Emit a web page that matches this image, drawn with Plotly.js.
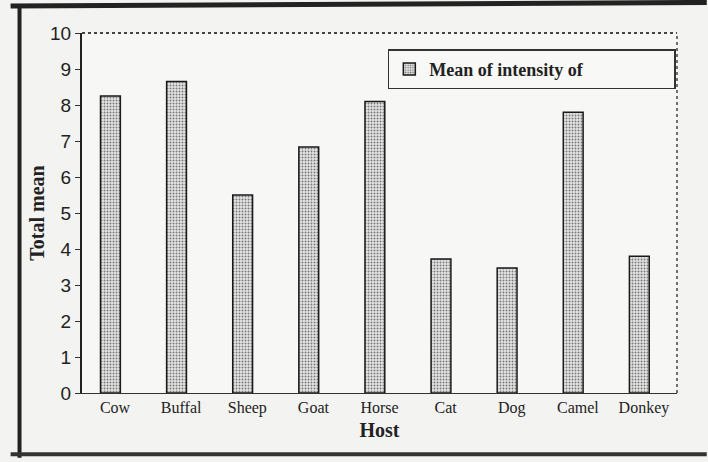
<!DOCTYPE html>
<html><head><meta charset="utf-8">
<script src="https://cdn.plot.ly/plotly-3.0.1.min.js"></script>
<style>html,body{margin:0;padding:0;background:#f3f3f1;}#chart{width:708px;height:462px;}</style>
</head><body><div id="chart"></div>
<script>
const hosts = ["Cow","Buffal","Sheep","Goat","Horse","Cat","Dog","Camel","Donkey"];
const meanIntensity = [8.25, 8.65, 5.5, 6.83, 8.1, 3.72, 3.47, 7.8, 3.8];
const yTicks = [0,1,2,3,4,5,6,7,8,9,10];

const trace = {
  type: "bar",
  x: hosts,
  y: meanIntensity,
  name: "<b>Mean of intensity of</b>",
  width: 0.3,
  offset: -0.22,
  marker: {
    color: "#d4d4d4",
    line: {color: "#1a1a1a", width: 1.5},
    pattern: {shape: ".", fgcolor: "#7a7a7a", bgcolor: "#e6e6e6", size: 3, solidity: 0.35}
  }
};

const layout = {
  width: 708, height: 462,
  paper_bgcolor: "#f3f3f1",
  plot_bgcolor: "#f7f7f5",
  margin: {l: 82, r: 31, t: 33, b: 69},
  bargap: 0.7,
  showlegend: true,
  legend: {
    orientation: "h",
    entrywidth: 240,
    x: 0.514, xanchor: "left", y: 0.955, yanchor: "top",
    bgcolor: "#f8f8f6", bordercolor: "#333", borderwidth: 1.5,
    font: {family: "Liberation Serif, Times New Roman, serif", size: 18, color: "#222"},
    itemwidth: 30
  },
  xaxis: {
    type: "category",
    showline: true, linecolor: "#333", linewidth: 1,
    ticks: "", showgrid: false,
    tickfont: {family: "Liberation Serif, Times New Roman, serif", size: 16, color: "#222"},
    title: {text: "<b>Host</b>", font: {family: "Liberation Serif, Times New Roman, serif", size: 20, color: "#222"}, standoff: 6}
  },
  yaxis: {
    range: [0, 10],
    tickvals: yTicks,
    showline: true, linecolor: "#222", linewidth: 2,
    ticks: "outside", ticklen: 5, tickcolor: "#333",
    showgrid: false, zeroline: false,
    tickfont: {family: "Liberation Sans, Arial, sans-serif", size: 19, color: "#222"},
    title: {text: "<b>Total mean</b>", font: {family: "Liberation Serif, Times New Roman, serif", size: 20, color: "#222"}, standoff: 0}
  },
  shapes: [
    {type: "line", xref: "paper", yref: "paper", x0: 0, x1: 1, y0: 1, y1: 1, line: {color: "#444", width: 2, dash: "dot"}},
    {type: "line", xref: "paper", yref: "paper", x0: 1, x1: 1, y0: 0, y1: 1, line: {color: "#444", width: 1.5, dash: "dot"}},
    {type: "line", xref: "paper", yref: "paper", x0: -0.12, x1: 1.05, y0: 1.075, y1: 1.085, line: {color: "#222", width: 5}},
    {type: "line", xref: "paper", yref: "paper", x0: -0.105, x1: -0.105, y0: -0.18, y1: 1.07, line: {color: "#222", width: 4}},
    {type: "line", xref: "paper", yref: "paper", x0: -0.12, x1: 1.05, y0: -0.17, y1: -0.17, line: {color: "#333", width: 4}}
  ]
};

Plotly.newPlot("chart", [trace], layout, {displayModeBar: false, staticPlot: true});
</script></body></html>
